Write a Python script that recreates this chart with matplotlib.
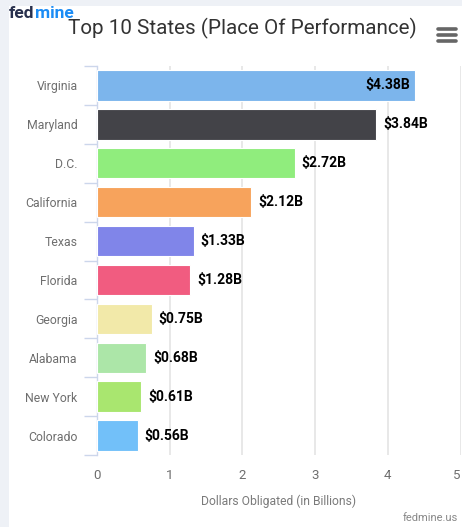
import matplotlib
matplotlib.use("Agg")
import matplotlib.pyplot as plt
from matplotlib.lines import Line2D
from matplotlib.patches import Rectangle

plt.rcParams["font.family"] = ["Roboto", "DejaVu Sans"]

# Data
states = ["Virginia", "Maryland", "D.C.", "California", "Texas",
          "Florida", "Georgia", "Alabama", "New York", "Colorado"]
values = [4.38, 3.84, 2.72, 2.12, 1.33, 1.28, 0.75, 0.68, 0.61, 0.56]
labels = ["$4.38B", "$3.84B", "$2.72B", "$2.12B", "$1.33B",
          "$1.28B", "$0.75B", "$0.68B", "$0.61B", "$0.56B"]
colors = ["#7cb5ec", "#434348", "#90ed7d", "#f7a35c", "#8085e9",
          "#f15c80", "#f2e9a9", "#ace6a8", "#a9e66f", "#72c0f9"]
x_ticks = [0, 1, 2, 3, 4, 5]

W, H = 462, 527
fig = plt.figure(figsize=(W / 100, H / 100), dpi=100, facecolor="#eef1f6")

# white card behind everything
fig.add_artist(Rectangle((9 / W, 0), 1 - 9 / W, 1 - 6 / H, transform=fig.transFigure,
                         facecolor="white", edgecolor="none", zorder=-5))

ax = fig.add_axes([97 / W, 1 - 455 / H, 363.5 / W, (455 - 66) / H])
ax.set_facecolor("none")

y = list(range(len(states)))
ax.barh(y, values, height=0.78, color=colors, edgecolor="white", linewidth=0.8, zorder=3)

for i, (v, lab) in enumerate(zip(values, labels)):
    if i == 0:
        ax.annotate(lab, (v, i), xytext=(-4, 0), textcoords="offset points",
                    ha="right", va="center", fontsize=10, fontweight="bold",
                    color="black", zorder=4)
    else:
        ax.annotate(lab, (v, i), xytext=(5, 0), textcoords="offset points",
                    ha="left", va="center", fontsize=10, fontweight="bold",
                    color="black", zorder=4)

ax.set_xlim(0, 5)
ax.set_ylim(len(states) - 0.5, -0.5)
ax.set_xticks(x_ticks)
ax.set_yticks(y)
ax.set_yticklabels(states)
ax.set_yticks([i - 0.5 for i in range(len(states) + 1)], minor=True)

ax.grid(axis="x", color="#e2e2e2", linewidth=1.1, zorder=0)
ax.set_axisbelow(True)

for s in ["top", "right", "bottom"]:
    ax.spines[s].set_visible(False)
ax.spines["left"].set_color("#ccd6eb")
ax.spines["left"].set_linewidth(1.0)

ax.tick_params(axis="y", which="major", length=0, pad=14, labelsize=8.8, labelcolor="#6e6e6e")
ax.tick_params(axis="y", which="minor", length=9.3, color="#ccd6eb", width=1.0)
ax.tick_params(axis="x", length=0, pad=10, labelsize=9.5, labelcolor="#6e6e6e")
ax.get_xticklabels()[-1].set_ha("right")

ax.set_xlabel("Dollars Obligated (in Billions)", fontsize=8.7, color="#7a7a7a", labelpad=9)

# title
fig.text(242 / W, 1 - 28 / H, "Top 10 States (Place Of Performance)",
         ha="center", va="center", fontsize=14.9, color="#333333")

# logo
t1 = fig.text(9 / W, 1 - 13 / H, "fed", ha="left", va="center",
              fontsize=12.5, fontweight="bold", color="#28304d")
fig.canvas.draw()
bb = t1.get_window_extent()
fig.text(bb.x1 / W, 1 - 13 / H, "mine", ha="left", va="center",
         fontsize=12.5, fontweight="bold", color="#1b8cf5")

# hamburger menu
for yy in [29, 35, 41]:
    fig.add_artist(Line2D([438 / W, 456 / W], [1 - yy / H, 1 - yy / H],
                          transform=fig.transFigure, color="#666666",
                          linewidth=2.6, solid_capstyle="round"))

# credit
fig.text(458 / W, 1 - 518 / H, "fedmine.us", ha="right", va="center",
         fontsize=8, color="#888888")

fig.savefig("out.png", dpi=100, facecolor=fig.get_facecolor())
